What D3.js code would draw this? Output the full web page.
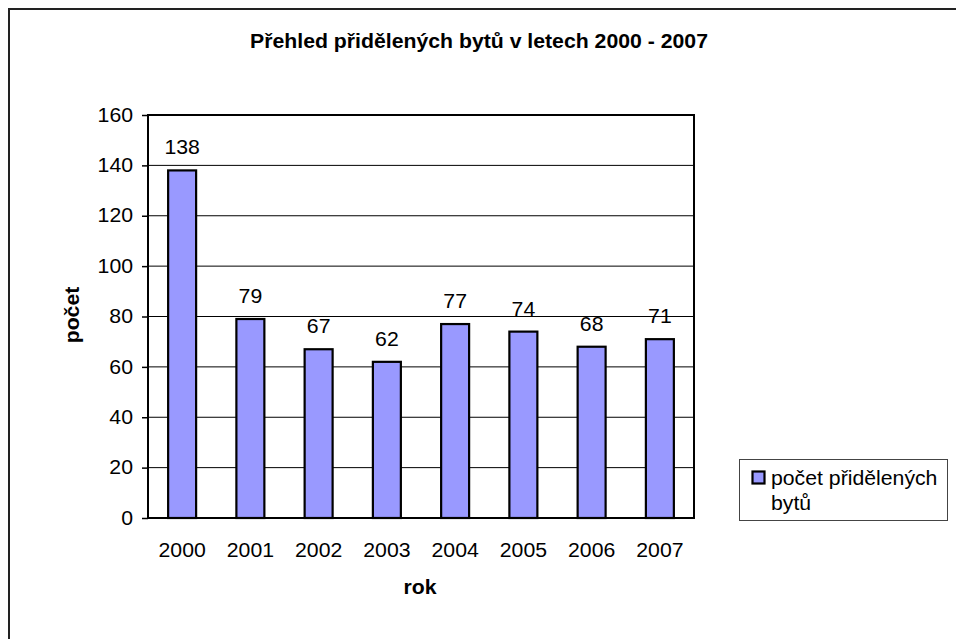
<!DOCTYPE html>
<html>
<head>
<meta charset="utf-8">
<script src="https://cdn.jsdelivr.net/npm/d3@7"></script>
<style>
  body { margin: 0; background: #fff; }
  text { font-family: Arial, "Liberation Sans", sans-serif; fill: #000; }
</style>
</head>
<body>
<svg id="chart" width="956" height="639"></svg>
<script>
var years = ["2000", "2001", "2002", "2003", "2004", "2005", "2006", "2007"];
var counts = [138, 79, 67, 62, 77, 74, 68, 71];
var yTicks = [0, 20, 40, 60, 80, 100, 120, 140, 160];
var seriesName = ["počet přidělených", "bytů"];

var SX = 1.09; // text looks wider than plain Arial
var FS = 19.5;
var svg = d3.select("#chart");

// outer frame (runs off the right/bottom edge)
svg.append("rect")
    .attr("x", 9).attr("y", 9)
    .attr("width", 960).attr("height", 650)
    .attr("fill", "#fff")
    .attr("stroke", "#222")
    .attr("stroke-width", 2);

var plot = {left: 148, right: 694, top: 115, bottom: 518};

var x = d3.scaleBand()
    .domain(years)
    .range([plot.left, plot.right])
    .paddingInner(0.59)
    .paddingOuter(0.295);

var y = d3.scaleLinear()
    .domain([0, 160])
    .range([plot.bottom, plot.top]);

function label(g, px, py, str, size, weight, anchor, rot) {
    var t = g.append("text")
        .attr("transform", "translate(" + px + "," + py + ")" + (rot ? " rotate(" + rot + ")" : "") + " scale(" + SX + ",1)")
        .attr("font-size", size)
        .attr("font-weight", weight || "normal")
        .attr("text-anchor", anchor || "middle")
        .text(str);
    return t;
}

// title
label(svg, 479, 48, "Přehled přidělených bytů v letech 2000 - 2007", FS, "bold");

// gridlines
svg.append("g").selectAll("line")
    .data(yTicks.filter(function(d){ return d > 0 && d < 160; }))
    .enter().append("line")
    .attr("x1", plot.left).attr("x2", plot.right)
    .attr("y1", function(d){ return y(d); })
    .attr("y2", function(d){ return y(d); })
    .attr("stroke", "#000")
    .attr("stroke-width", 1);

// bars
svg.append("g").selectAll("rect")
    .data(counts)
    .enter().append("rect")
    .attr("x", function(d, i){ return x(years[i]); })
    .attr("y", function(d){ return y(d); })
    .attr("width", x.bandwidth())
    .attr("height", function(d){ return y(0) - y(d); })
    .attr("fill", "#9999ff")
    .attr("stroke", "#000")
    .attr("stroke-width", 2.2);

// value labels
var vals = svg.append("g");
counts.forEach(function(d, i){
    label(vals, x(years[i]) + x.bandwidth() / 2, y(d) - 16, String(d), FS);
});

// plot border
svg.append("rect")
    .attr("x", plot.left).attr("y", plot.top)
    .attr("width", plot.right - plot.left)
    .attr("height", plot.bottom - plot.top)
    .attr("fill", "none")
    .attr("stroke", "#000")
    .attr("stroke-width", 2);

// y axis
var yAxis = svg.append("g")
    .attr("transform", "translate(" + plot.left + ",0)")
    .call(d3.axisLeft(y).tickValues(yTicks).tickSize(6).tickPadding(9));
yAxis.select(".domain").remove();
yAxis.selectAll("line").attr("stroke", "#000").attr("stroke-width", 1.5);
yAxis.selectAll("text")
    .attr("font-size", FS)
    .attr("font-family", "Arial, 'Liberation Sans', sans-serif")
    .attr("transform", function(){
        var tx = +d3.select(this).attr("x");
        d3.select(this).attr("x", 0);
        return "translate(" + tx + ",0) scale(" + SX + ",1)";
    });

// x axis labels
var xl = svg.append("g");
years.forEach(function(d){
    label(xl, x(d) + x.bandwidth() / 2, 557, d, FS);
});

// axis titles
label(svg, 420, 594, "rok", FS, "bold");
label(svg, 79, 315, "počet", FS, "bold", "middle", -90);

// legend
var lg = svg.append("g");
lg.append("rect")
    .attr("x", 739.5).attr("y", 459.5)
    .attr("width", 208).attr("height", 61)
    .attr("fill", "#fff")
    .attr("stroke", "#444")
    .attr("stroke-width", 1);
lg.append("rect")
    .attr("x", 752.5).attr("y", 471.5)
    .attr("width", 12).attr("height", 12)
    .attr("fill", "#9999ff")
    .attr("stroke", "#000")
    .attr("stroke-width", 2.2);
label(lg, 771, 485, seriesName[0], FS, "normal", "start");
label(lg, 771, 510, seriesName[1], FS, "normal", "start");
</script>
</body>
</html>
